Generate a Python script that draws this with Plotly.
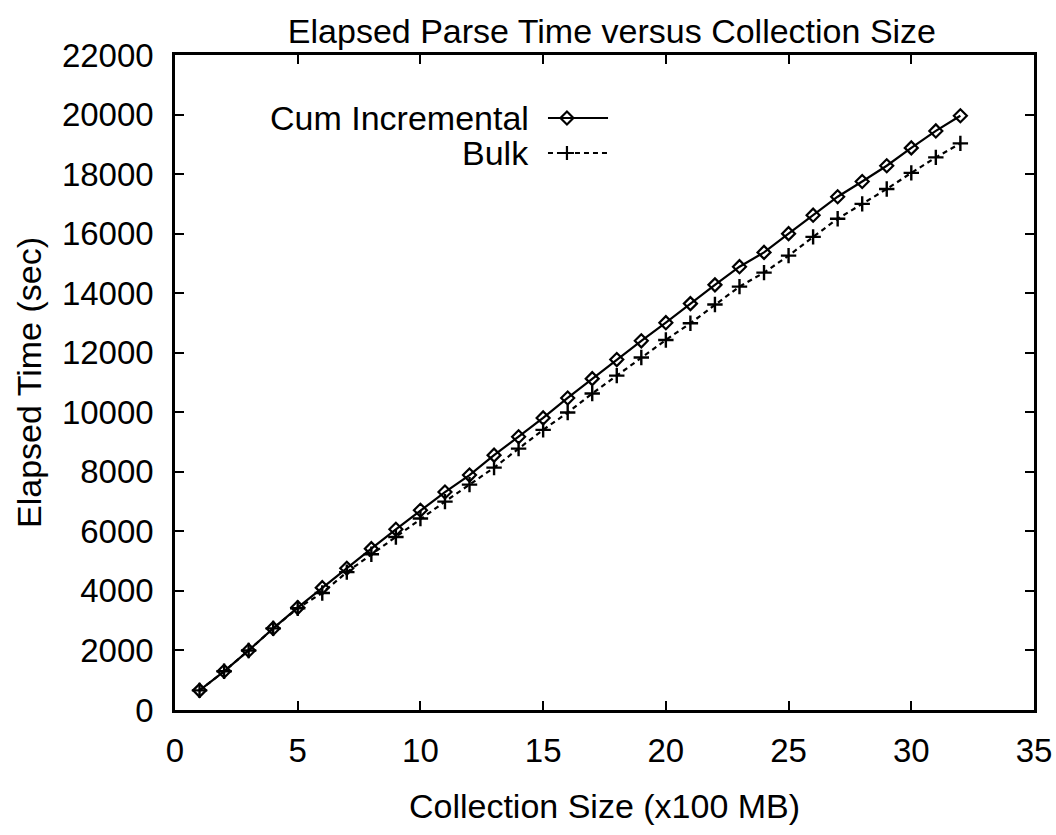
import plotly.graph_objects as go

# Collection size in units of 100 MB
sizes = list(range(1, 33))

# Cumulative elapsed parse time, incremental builds (sec)
cum_incremental = [
    660, 1300, 2000, 2740, 3440, 4110, 4760, 5420, 6070, 6710,
    7320, 7890, 8560, 9180, 9810, 10480, 11130, 11770, 12400, 13010,
    13650, 14280, 14890, 15370, 16000, 16620, 17240, 17750, 18280, 18880,
    19450, 19960,
]

# Elapsed parse time, bulk build (sec)
bulk = [
    660, 1300, 2000, 2740, 3420, 3930, 4630, 5230, 5810, 6430,
    7000, 7570, 8140, 8780, 9410, 9990, 10630, 11230, 11840, 12430,
    12990, 13620, 14220, 14690, 15260, 15890, 16500, 17000, 17500, 18040,
    18560, 19030,
]

x_ticks = [0, 5, 10, 15, 20, 25, 30, 35]
y_ticks = list(range(0, 22001, 2000))
y_tick_labels = [str(v) for v in y_ticks]

FONT = "Liberation Sans, Arial, Helvetica, sans-serif"
INK = "#000000"

fig = go.Figure()

fig.add_trace(go.Scatter(
    x=sizes, y=cum_incremental, mode="lines+markers", name="Cum Incremental",
    line=dict(color=INK, width=2.2),
    marker=dict(symbol="diamond-open", size=10, color=INK, line=dict(width=2.2)),
    showlegend=False,
))
fig.add_trace(go.Scatter(
    x=sizes, y=bulk, mode="lines+markers", name="Bulk",
    line=dict(color=INK, width=2.2, dash="5px,4px"),
    marker=dict(symbol="cross-thin-open", size=11, color=INK, line=dict(width=2.4, color=INK)),
    showlegend=False,
))

# Key samples drawn on an overlay axis pair spanning [0, 1]
key_y = [0.9038, 0.8504]
key_text = ["Cum Incremental", "Bulk"]
key_style = [
    dict(dash="solid", symbol="diamond-open"),
    dict(dash="5px,4px", symbol="cross-thin-open"),
]
for ky, style in zip(key_y, key_style):
    fig.add_trace(go.Scatter(
        x=[0.4342, 0.5041], y=[ky, ky], mode="lines",
        line=dict(color=INK, width=2.2, dash=style["dash"]),
        xaxis="x2", yaxis="y2", showlegend=False, hoverinfo="skip",
    ))
    fig.add_trace(go.Scatter(
        x=[0.4563], y=[ky], mode="markers",
        marker=dict(symbol=style["symbol"], size=10, color=INK, line=dict(width=2.2, color=INK)),
        xaxis="x2", yaxis="y2", showlegend=False, hoverinfo="skip",
    ))

annotations = [
    dict(text=t, x=0.4144, y=ky, xref="paper", yref="paper",
         xanchor="right", yanchor="middle", showarrow=False,
         font=dict(family=FONT, size=34, color=INK))
    for t, ky in zip(key_text, key_y)
]

axis_common = dict(
    showline=True, linecolor=INK, linewidth=2.5, mirror="ticks",
    ticks="inside", ticklen=9, tickwidth=2, tickcolor=INK,
    showgrid=False, zeroline=False, ticklabeloverflow="allow",
    automargin=False,
    tickfont=dict(family=FONT, size=33, color=INK),
)

fig.update_layout(
    width=1056, height=835,
    margin=dict(l=175, r=22, t=55, b=125),
    paper_bgcolor="white", plot_bgcolor="white",
    title=dict(text="Elapsed Parse Time versus Collection Size",
               x=0.5795, xanchor="center", y=0.963, yanchor="middle",
               font=dict(family=FONT, size=34, color=INK)),
    xaxis=dict(range=[0, 35], tickvals=x_ticks, ticklabelstandoff=10,
               title=dict(text="Collection Size (x100 MB)", standoff=26,
                          font=dict(family=FONT, size=34, color=INK)),
               **axis_common),
    yaxis=dict(range=[0, 22000], tickvals=y_ticks, ticktext=y_tick_labels,
               ticklabelstandoff=12,
               title=dict(text="Elapsed Time (sec)", standoff=10,
                          font=dict(family=FONT, size=34, color=INK)),
               **axis_common),
    xaxis2=dict(range=[0, 1], overlaying="x", visible=False, fixedrange=True),
    yaxis2=dict(range=[0, 1], overlaying="y", visible=False, fixedrange=True),
    annotations=annotations,
)

fig.write_html("out.html")
